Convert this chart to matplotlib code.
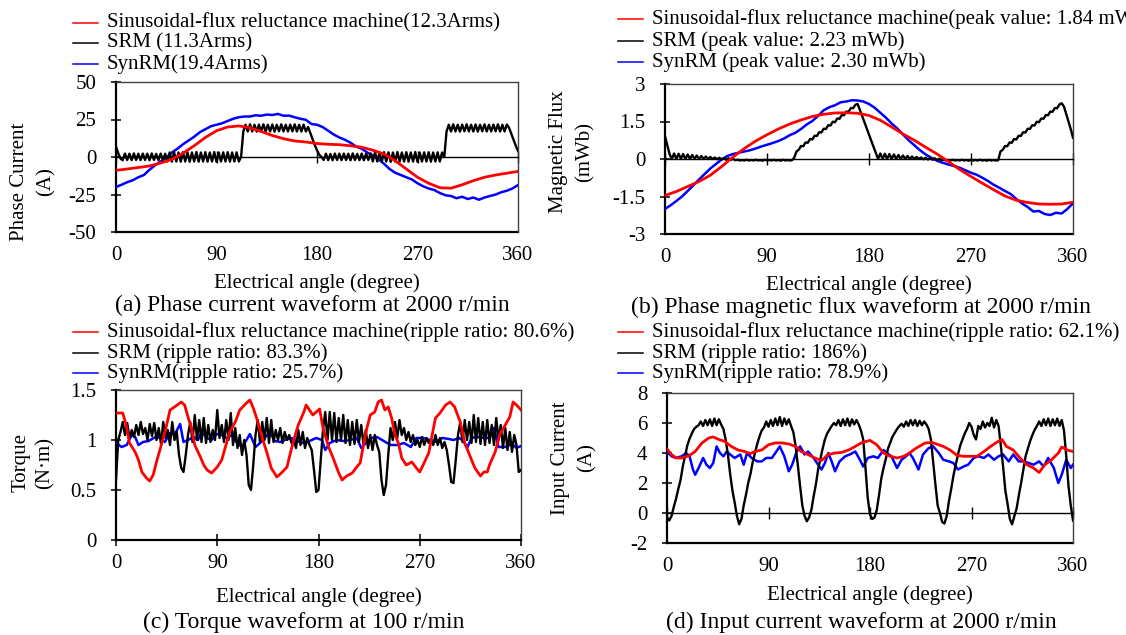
import numpy as np
import matplotlib
matplotlib.use('Agg')
import matplotlib.pyplot as plt
from matplotlib.lines import Line2D
from matplotlib.ticker import FuncFormatter

plt.rcParams['font.family'] = ['Liberation Serif', 'DejaVu Serif']
plt.rcParams['font.size'] = 15
plt.rcParams['axes.unicode_minus'] = False

W, H = 1126, 635

# ---------------- data ----------------
XTICKS = [0, 90, 180, 270, 360]
ANG2 = np.arange(0, 361, 2)
ANG5 = np.arange(0, 361, 5)
ANG10 = np.arange(0, 361, 10)

# (a) phase current [A]
a_sfrm = [-8.9, -8, -7, -6, -4, -1.6, 2.5, 7.5, 13, 17.5,
          20, 20.7, 19.5, 17, 14.3, 12.2, 10.7, 10, 9, 8.5,
          8.2, 7.5, 6.5, 4.5, 2, -2.5, -8, -13.5, -17.5, -20.5,
          -20.8, -18.5, -15.8, -13.5, -12, -10.8, -9.6]
a_srm = [7, 2.5, -1, -2.2, 2.3, -2, 2.2, -2.1, 2.4, -2,
         2.2, -2.1, 2.3, -2, 2.2, -2.2, 2.4, -2, 2.1, -2.1,
         2.3, -2.2, 2.2, -3, 3, -3.1, 3.2, -3, 3, -3.1,
         3.2, -3, 3.1, -3.2, 3, -3, 3.3, -3.1, 3, -3,
         3.2, -3.1, 3, -3, 3.3, -3.2, 3, -3, 3.1, -3,
         3.2, -3.1, 3, -3, 3.1, -3, 0, 17, 21.5, 17,
         21.8, 17, 21.5, 16.9, 21.6, 17.1, 21.8, 17, 21.5, 17,
         21.7, 16.9, 21.5, 17.2, 21.8, 17, 21.5, 17, 21.6, 17.1,
         21.8, 17, 21.5, 17, 21.6, 17, 20, 16, 12, 8,
         4.5, 1.5, 0, -2, 2.2, -2.1, 2, -2.2, 2.3, -2,
         2.2, -2.1, 2.3, -2, 2.2, -2.2, 2.4, -2, 2.1, -2.1,
         2.3, -2.2, 2.2, -2, 2.4, -3, 3.2, -3, 3, -3.1,
         3.2, -3, 3.1, -3.2, 3, -3, 3.3, -3.1, 3, -3,
         3.2, -3.1, 3, -3, 3.3, -3.2, 3, -3, 3.1, -3,
         3.2, -3.1, 3, -3, 3.1, -3, 3, 0, 17, 21.5,
         17, 21.8, 17, 21.5, 16.9, 21.6, 17.1, 21.8, 17, 21.5,
         17, 21.7, 16.9, 21.5, 17.2, 21.8, 17, 21.5, 17, 21.6,
         17.1, 21.8, 17, 21.5, 17, 21.6, 19.5, 15.5, 11.5, 7.5,
         4]
a_synrm = [-20, -18.5, -16.8, -15.5, -13.5, -12, -8.5, -5.5, -3, -0.5,
           3, 5.5, 8.5, 11, 13.5, 16.5, 18.5, 20.5, 21.5, 22.5,
           24, 25.5, 26.5, 27, 27, 27.8, 27.5, 28.3, 28, 28.7,
           27.5, 27.6, 26.5, 25.5, 24.8, 22, 21.5, 20, 17.5, 15,
           13, 11.5, 9.5, 7, 5.5, 3, 1, -1.5, -4.5, -8,
           -10.5, -12, -13.5, -15, -17.5, -19.5, -21, -22, -24, -25.5,
           -26, -27.5, -26.5, -28, -27, -28.5, -27, -26, -25, -23.5,
           -22.5, -21, -18.7]

# (b) magnetic flux [mWb]
b_sfrm = [-1.46, -1.3, -1.1, -0.9, -0.65, -0.3, 0.08, 0.42, 0.72, 0.97,
          1.2, 1.4, 1.56, 1.7, 1.79, 1.84, 1.85, 1.83, 1.74, 1.55,
          1.28, 1.0, 0.75, 0.47, 0.2, -0.1, -0.42, -0.7, -0.97, -1.23,
          -1.48, -1.65, -1.74, -1.8, -1.81, -1.8, -1.73]
b_srm = [0.91, 0.55, 0.2, 0.0, 0.22, 0.0, 0.21, 0.0, 0.2, 0.0,
         0.18, 0.0, 0.16, 0.0, 0.14, 0.0, 0.12, 0.0, 0.1, 0.0,
         0.08, 0.0, 0.06, -0.01, 0.05, -0.02, 0.04, -0.03, 0.03, -0.04,
         0.01, -0.05, -0.03, -0.06, -0.04, -0.06, -0.03, -0.06, -0.04, -0.06,
         -0.03, -0.06, -0.04, -0.07, -0.03, -0.06, -0.04, -0.06, -0.03, -0.06,
         -0.04, -0.07, -0.03, -0.06, -0.04, -0.06, -0.05, 0.05, 0.3, 0.37,
         0.52, 0.51, 0.66, 0.65, 0.8, 0.78, 0.93, 0.92, 1.07, 1.06,
         1.21, 1.2, 1.35, 1.34, 1.49, 1.47, 1.62, 1.61, 1.76, 1.75,
         1.9, 1.89, 2.04, 2.03, 2.17, 2.2, 1.96, 1.72, 1.47, 1.22,
         0.98, 0.73, 0.49, 0.24, 0.0, 0.22, 0.0, 0.21, 0.0, 0.2,
         0.0, 0.18, 0.0, 0.16, 0.0, 0.14, 0.0, 0.12, 0.0, 0.1,
         0.0, 0.08, 0.0, 0.06, -0.01, 0.05, -0.02, 0.04, -0.03, 0.03,
         -0.04, 0.01, -0.05, -0.03, -0.06, -0.04, -0.06, -0.03, -0.06, -0.04,
         -0.06, -0.03, -0.06, -0.04, -0.07, -0.03, -0.06, -0.04, -0.06, -0.03,
         -0.06, -0.04, -0.07, -0.03, -0.06, -0.04, -0.06, -0.05, 0.3, 0.37,
         0.52, 0.51, 0.66, 0.65, 0.8, 0.78, 0.93, 0.92, 1.07, 1.06,
         1.21, 1.2, 1.35, 1.34, 1.49, 1.47, 1.62, 1.61, 1.76, 1.75,
         1.9, 1.89, 2.04, 2.03, 2.18, 2.23, 2.1, 1.8, 1.5, 1.2,
         0.85]
b_synrm = [-2.0, -1.85, -1.68, -1.5, -1.28, -1.05, -0.82, -0.6, -0.38, -0.2,
           -0.02, 0.12, 0.2, 0.25, 0.3, 0.35, 0.42, 0.5, 0.57, 0.64,
           0.72, 0.82, 0.95, 1.05, 1.2, 1.38, 1.52, 1.72, 1.95, 2.07,
           2.15, 2.27, 2.3, 2.35, 2.34, 2.3, 2.2, 2.05, 1.85, 1.65,
           1.42, 1.22, 0.98, 0.75, 0.55, 0.35, 0.18, 0.05, -0.07, -0.15,
           -0.22, -0.28, -0.35, -0.45, -0.55, -0.63, -0.75, -0.88, -1.03, -1.15,
           -1.28, -1.4, -1.6, -1.78, -1.92, -2.1, -2.08, -2.2, -2.24, -2.15,
           -2.18, -2.0, -1.77]

# (c) torque [N·m] at 100 r/min
c_sfrm_ang = [0, 6, 9, 12, 17, 20, 23, 27, 30, 33,
              36, 39, 42, 45, 48, 52, 58, 61, 64, 67,
              70, 75, 78, 81, 85, 90, 94, 97, 101, 106,
              110, 116, 119, 122, 125, 130, 134, 138, 143, 147,
              152, 155, 158, 162, 167, 169, 172, 175, 181, 184,
              189, 193, 198, 201, 205, 210, 214, 217, 220, 223,
              226, 230, 233, 236, 239, 242, 245, 248, 251, 254,
              258, 263, 267, 270, 273, 278, 281, 284, 288, 293,
              297, 301, 306, 310, 315, 319, 324, 327, 330, 332,
              337, 341, 346, 350, 353, 356, 360]
c_sfrm = [1.27, 1.27, 1.15, 0.97, 0.88, 0.80, 0.68, 0.62, 0.59, 0.65,
          0.78, 0.90, 1.02, 1.15, 1.30, 1.33, 1.38, 1.35, 1.23, 1.12,
          0.95, 0.83, 0.75, 0.70, 0.67, 0.73, 0.80, 0.92, 1.08, 1.18,
          1.30, 1.37, 1.40, 1.32, 1.22, 1.02, 0.88, 0.72, 0.63, 0.67,
          0.73, 0.87, 1.00, 1.15, 1.28, 1.35, 1.30, 1.25, 1.31, 1.12,
          0.93, 0.82, 0.67, 0.60, 0.64, 0.67, 0.73, 0.77, 0.95, 1.12,
          1.25, 1.28, 1.38, 1.40, 1.30, 1.33, 1.22, 1.05, 0.97, 0.82,
          0.75, 0.78, 0.72, 0.68, 0.75, 0.87, 1.05, 1.22, 1.27, 1.35,
          1.38, 1.33, 1.18, 0.97, 0.83, 0.72, 0.64, 0.68, 0.68, 0.75,
          0.88, 1.05, 1.15, 1.23, 1.38, 1.35, 1.30]
c_srm = [0.60, 1.00, 1.08, 1.18, 1.05, 1.17, 1.02, 1.10, 1.03, 1.15,
         1.05, 1.18, 1.06, 1.12, 1.00, 1.16, 1.04, 1.17, 1.00, 1.12,
         0.96, 1.18, 1.02, 1.10, 0.95, 1.18, 1.00, 1.08, 0.85, 0.72,
         0.68, 0.85, 1.05, 1.18, 0.98, 1.25, 1.00, 1.20, 0.98, 1.22,
         0.97, 1.15, 0.98, 1.10, 1.00, 1.30, 1.02, 1.15, 0.98, 1.20,
         1.00, 1.27, 0.95, 1.12, 0.92, 1.05, 0.85, 1.00, 0.85, 0.55,
         0.50, 0.75, 1.05, 1.20, 0.98, 1.18, 1.00, 1.22, 0.97, 1.20,
         0.98, 1.10, 1.00, 1.12, 0.97, 1.08, 1.00, 1.05, 0.97, 1.00,
         0.92, 1.10, 0.95, 1.08, 0.92, 1.02, 0.95, 0.90, 0.70, 0.48,
         0.50, 0.80, 1.10, 1.28, 1.00, 1.28, 1.00, 1.27, 0.98, 1.22,
         1.00, 1.25, 0.97, 1.20, 0.95, 1.18, 0.96, 1.20, 0.98, 1.15,
         0.95, 1.10, 0.92, 1.05, 0.90, 1.05, 0.95, 0.88, 0.60, 0.45,
         0.55, 0.85, 1.12, 1.00, 1.18, 1.02, 1.20, 1.05, 1.12, 1.00,
         1.08, 0.98, 1.05, 0.95, 1.00, 0.93, 1.03, 0.95, 1.02, 0.97,
         1.00, 0.95, 1.05, 0.95, 1.02, 0.92, 0.98, 0.90, 0.75, 0.58,
         0.57, 0.80, 1.05, 1.18, 0.98, 1.20, 1.00, 1.18, 0.97, 1.25,
         0.98, 1.22, 0.96, 1.18, 0.95, 1.20, 0.97, 1.15, 0.95, 1.22,
         1.00, 1.15, 0.92, 1.12, 0.90, 1.08, 0.88, 1.05, 0.95, 0.68,
         0.70]
c_synrm_ang = [0, 5, 9.5, 14, 17, 20, 24, 29, 35, 39,
               43.5, 48, 52, 57, 60, 64, 69, 73, 76, 81,
               85, 89.5, 94, 98, 103, 107, 112, 116, 119, 124,
               128, 132, 137, 141, 146, 150, 156, 161, 165, 170,
               174, 178, 183, 186, 190, 196, 202, 208, 214, 218,
               223, 227, 232, 238, 244, 250, 256, 262, 267, 273,
               279, 285, 290, 296, 300, 305, 309, 312, 316, 321,
               327, 332, 336, 340, 346, 352, 356, 360]
c_synrm = [0.97, 0.93, 0.95, 1.05, 1.03, 0.95, 0.98, 0.99, 1.03, 1.02,
           0.98, 1.07, 1.05, 1.16, 0.98, 1.00, 1.03, 1.00, 1.08, 1.02,
           1.00, 1.06, 1.05, 1.02, 1.05, 0.98, 0.93, 1.00, 1.06, 0.93,
           0.97, 1.02, 1.08, 0.99, 0.98, 1.00, 1.02, 0.99, 0.97, 0.98,
           1.00, 1.02, 1.00, 0.90, 0.97, 1.00, 0.99, 1.00, 1.02, 0.92,
           0.98, 1.02, 1.03, 0.99, 0.95, 0.95, 0.97, 0.93, 1.02, 1.02,
           1.00, 0.98, 1.02, 1.01, 1.00, 1.02, 0.99, 0.92, 1.02, 1.03,
           1.02, 1.02, 1.12, 0.93, 0.93, 0.96, 0.92, 0.94]

# (d) input current [A]
d_sfrm_ang = [0, 4, 8, 13, 19, 25, 31, 37, 41, 46,
              51, 57, 63, 69, 74, 78, 84, 90, 96, 102,
              108, 114, 119, 125, 131, 137, 143, 149, 155, 161,
              167, 173, 180, 186, 192, 198, 204, 210, 215, 221,
              229, 235, 239, 245, 251, 257, 263, 269, 275, 281,
              287, 292, 297, 301, 307, 313, 319, 325, 330, 335,
              341, 347, 350, 355, 360]
d_sfrm = [4.27, 3.9, 3.67, 3.67, 3.8, 4.1, 4.67, 5.0, 5.07, 4.9,
          4.78, 4.44, 4.2, 4.1, 3.96, 4.1, 4.2, 4.55, 4.67, 4.67,
          4.6, 4.44, 4.1, 3.9, 3.67, 3.5, 3.9, 4.0, 4.04, 4.2,
          4.44, 4.7, 4.84, 4.55, 4.0, 3.78, 3.67, 3.78, 4.0, 4.33,
          4.67, 4.7, 4.6, 4.44, 4.2, 3.85, 3.78, 3.78, 3.78, 4.1,
          4.44, 4.7, 4.9, 4.44, 4.2, 3.67, 3.22, 3.0, 2.7, 3.22,
          3.55, 4.0, 4.4, 4.2, 4.1]
d_srm = [-0.3, -0.5, -0.2, 0.4, 0.95, 1.6, 2.2, 3.1, 3.8, 4.5,
         4.95, 5.3, 5.6, 5.75, 5.85, 6.1, 5.8, 6.2, 5.85, 6.25,
         5.8, 6.3, 5.85, 6.25, 5.9, 5.6, 4.9, 3.9, 2.6, 1.5,
         0.7, -0.2, -0.75, -0.4, 0.5, 1.2, 2.0, 2.6, 3.4, 4.0,
         4.6, 5.1, 5.5, 5.7, 6.1, 5.75, 6.2, 5.8, 6.3, 5.85,
         6.4, 5.8, 6.3, 5.9, 6.25, 5.8, 5.4, 4.5, 3.2, 1.8,
         0.5, -0.2, -0.55, -0.3, 0.2, 1.1, 1.9, 2.9, 3.6, 4.3,
         4.9, 5.3, 5.55, 5.8, 6.0, 5.85, 6.2, 5.8, 6.25, 5.85,
         6.3, 5.8, 6.25, 5.9, 6.2, 5.9, 5.5, 4.9, 3.0, 1.0,
         -0.1, -0.4, -0.3, 0.2, 1.2, 2.3, 3.0, 3.6, 4.3, 4.7,
         5.1, 5.35, 5.6, 5.8, 5.95, 5.75, 6.1, 5.8, 6.2, 5.85,
         6.2, 5.8, 6.15, 5.85, 6.1, 5.9, 5.6, 4.9, 3.4, 1.9,
         0.5, 0.0, -0.6, -0.7, -0.2, 0.8, 1.6, 2.5, 3.2, 3.9,
         4.5, 4.9, 5.3, 5.6, 6.0, 5.75, 5.2, 4.9, 5.8, 5.6,
         6.1, 5.7, 6.0, 5.8, 6.35, 5.7, 6.2, 5.8, 4.5, 3.1,
         1.5, 0.6, -0.4, -0.75, -0.2, 0.3, 1.2, 2.0, 2.9, 3.8,
         4.3, 4.8, 5.2, 5.55, 5.8, 6.1, 5.8, 6.25, 5.85, 6.3,
         5.8, 6.25, 5.85, 6.3, 5.8, 6.2, 5.5, 3.8, 1.8, 0.5,
         -0.5]
d_synrm_ang = [0, 4, 8, 13, 17, 20, 23, 25, 28, 32,
               35, 38, 41, 44, 47, 50, 53, 56, 60, 65,
               68, 71, 75, 80, 84, 88, 93, 97, 100, 104,
               108, 111, 115, 118, 122, 125, 130, 134, 137, 140,
               143, 146, 149, 153, 158, 162, 167, 171, 174, 178,
               183, 187, 192, 195, 199, 204, 208, 212, 215, 218,
               223, 227, 232, 236, 241, 245, 250, 254, 258, 263,
               267, 272, 276, 281, 285, 290, 294, 298, 303, 307,
               312, 316, 321, 325, 330, 334, 338, 343, 347, 350,
               354, 358, 360]
d_synrm = [4.1, 3.78, 3.67, 3.78, 4.0, 3.78, 2.9, 2.55, 3.0, 3.67,
           3.22, 3.0, 3.33, 4.44, 4.0, 3.78, 4.1, 3.9, 3.67, 3.9,
           3.22, 4.0, 3.67, 3.44, 3.44, 3.67, 3.67, 4.1, 4.44, 3.78,
           2.78, 3.22, 4.1, 4.44, 3.9, 4.1, 3.67, 3.22, 2.9, 3.33,
           4.0, 3.44, 2.78, 3.44, 3.78, 3.9, 4.1, 3.55, 3.1, 3.67,
           3.78, 3.67, 4.2, 4.0, 3.78, 3.0, 3.55, 3.78, 4.0, 3.67,
           2.9, 3.9, 4.33, 4.44, 4.0, 3.55, 3.44, 3.33, 2.9, 3.1,
           3.22, 3.67, 3.78, 3.67, 3.9, 3.55, 3.78, 3.9, 3.44, 3.9,
           3.44, 3.44, 3.33, 3.22, 3.44, 3.1, 3.67, 3.0, 2.0, 2.55,
           3.55, 3.0, 3.22]

COLORS = ['#ff0000', '#000000', '#0000ff']
WIDTHS = [2.0, 1.7, 1.8]
LEG_A = ['Sinusoidal-flux reluctance machine(12.3Arms)', 'SRM (11.3Arms)', 'SynRM(19.4Arms)']
LEG_B = ['Sinusoidal-flux reluctance machine(peak value: 1.84 mWb)',
         'SRM (peak value: 2.23 mWb)', 'SynRM (peak value: 2.30 mWb)']
LEG_C = ['Sinusoidal-flux reluctance machine(ripple ratio: 80.6%)',
         'SRM (ripple ratio: 83.3%)', 'SynRM(ripple ratio: 25.7%)']
LEG_D = ['Sinusoidal-flux reluctance machine(ripple ratio: 62.1%)',
         'SRM (ripple ratio: 186%)', 'SynRM(ripple ratio: 78.9%)']

# ---------------- figure ----------------
fig = plt.figure(figsize=(W / 100, H / 100), dpi=100)


def fx(x):
    return x / W


def fy(y):
    return 1 - y / H


def panel(box, series, ylim, yticks, zero_axis, legend, leg_rows, leg_x,
          ylab, ylab_x, ylab_y, xlab_y, caption, cap_x, cap_y):
    l, t, r, b = box
    ax = fig.add_axes([fx(l), fy(b), (r - l) / W, (b - t) / H])
    # SynRM below SRM below sinusoidal-flux
    for (x, y), c, w, z in zip(series, COLORS, WIDTHS, [5, 4, 3]):
        ax.plot(x, y, color=c, lw=w, zorder=z, solid_joinstyle='round')
    ax.set_xlim(0, 360)
    ax.set_ylim(*ylim)
    ax.set_yticks(yticks)
    ax.yaxis.set_major_formatter(FuncFormatter(lambda v, p: f'{v:g}'))
    ax.tick_params(axis='y', direction='inout', length=7.2, width=1.1, pad=10.5)
    ax.set_xticks(XTICKS)
    for s in ['top', 'right']:
        ax.spines[s].set_linewidth(1.0)
        ax.spines[s].set_color('#404040')
    ax.spines['left'].set_linewidth(1.6)
    if zero_axis:
        ax.spines['bottom'].set_position(('data', 0))
        ax.spines['bottom'].set_linewidth(1.0)
        ax.tick_params(axis='x', direction='inout', length=8.5, width=1.0,
                       labelbottom=False)
        sec = ax.secondary_xaxis('bottom')
        sec.set_xticks(XTICKS)
        sec.tick_params(length=0, pad=10)
        sec.spines['bottom'].set_linewidth(1.6)
    else:
        ax.spines['bottom'].set_linewidth(1.6)
        ax.tick_params(axis='x', direction='inout', length=8.5, width=1.1, pad=5.5)

    # legend drawn above the plot area, Excel style
    for lab, c, ry in zip(legend, COLORS, leg_rows):
        fig.add_artist(Line2D([fx(leg_x - 34), fx(leg_x - 9)], [fy(ry), fy(ry)],
                              color=c, lw=1.1))
        fig.text(fx(leg_x), fy(ry), lab, ha='left', va='center', fontsize=15)

    fig.text(fx(ylab_x[0]), fy(ylab_y), ylab[0], rotation=90, ha='center', va='center')
    fig.text(fx(ylab_x[1]), fy(ylab_y), ylab[1], rotation=90, ha='center', va='center')
    fig.text(fx((l + r) / 2), fy(xlab_y), 'Electrical angle (degree)', ha='center', va='center')
    fig.text(fx(cap_x), fy(cap_y), caption, ha='center', va='center', fontsize=17)
    return ax


panel((116, 82, 518, 232),
      [(ANG10, a_sfrm), (ANG2, a_srm), (ANG5, a_synrm)],
      (-50, 50), [-50, -25, 0, 25, 50], True,
      LEG_A, [22.7, 43.3, 64], 107,
      ['Phase Current', '(A)'], [20, 46], 182, 283,
      '(a) Phase current waveform at 2000 r/min', 312, 305)

panel((665, 84, 1073, 234),
      [(ANG10, b_sfrm), (ANG2, b_srm), (ANG5, b_synrm)],
      (-3, 3), [-3, -1.5, 0, 1.5, 3], True,
      LEG_B, [19.3, 40.7, 61.7], 652,
      ['Magnetic Flux', '(mWb)'], [559, 585], 152, 285,
      '(b) Phase magnetic flux waveform at 2000 r/min', 861, 307)

panel((116, 390, 521, 540),
      [(c_sfrm_ang, c_sfrm), (ANG2, c_srm), (c_synrm_ang, c_synrm)],
      (0, 1.5), [0, 0.5, 1, 1.5], False,
      LEG_C, [331.7, 352.7, 372.7], 107,
      ['Torque', '(N·m)'], [21, 45], 463, 597,
      '(c) Torque waveform at 100 r/min', 304, 622)

panel((667, 393, 1073, 543),
      [(d_sfrm_ang, d_sfrm), (ANG2, d_srm), (d_synrm_ang, d_synrm)],
      (-2, 8), [-2, 0, 2, 4, 6, 8], True,
      LEG_D, [331.7, 352.7, 373.3], 652,
      ['Input Current', '(A)'], [561, 587], 458, 595,
      '(d) Input current waveform at 2000 r/min', 861, 622)

fig.savefig('out.png', dpi=100)
